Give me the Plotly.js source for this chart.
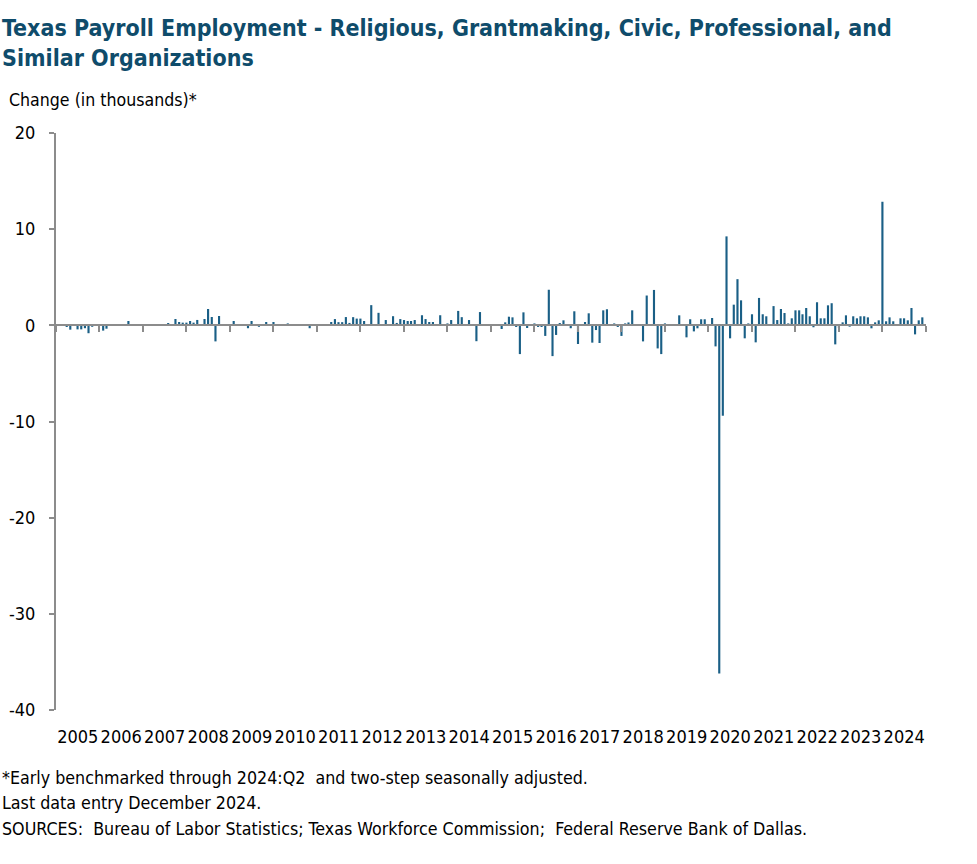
<!DOCTYPE html>
<html>
<head>
<meta charset="utf-8">
<script src="https://cdn.plot.ly/plotly-3.0.1.min.js"></script>
<style>html,body{margin:0;padding:0;background:#fff;}#chart{width:977px;height:864px;}</style>
</head>
<body>
<div id="chart"></div>
<script>
// Monthly change, thousands, Jan 2005 - Dec 2024
const years = ['2005','2006','2007','2008','2009','2010','2011','2012','2013','2014','2015','2016','2017','2018','2019','2020','2021','2022','2023','2024'];
const v2005 = [0, 0, 0, -0.17, -0.45, 0, -0.42, -0.42, -0.3, -0.82, -0.15, 0];
const v2006 = [0, -0.55, -0.35, 0, 0, 0, 0, 0, 0.45, 0, 0, 0];
const v2007 = [0, 0, 0, 0, 0, 0, 0, 0.24, 0, 0.66, 0.35, 0.28];
const v2008 = [0.28, 0.45, 0.28, 0.56, 0, 0.66, 1.7, 0.87, -1.67, 0.97, 0, 0];
const v2009 = [0, 0.45, 0, 0, 0, -0.3, 0.45, 0, -0.15, 0, 0.35, 0];
const v2010 = [0.35, 0, 0, 0, 0.2, 0, 0, 0, 0, 0, -0.3, 0];
const v2011 = [0, 0, 0, 0, 0.35, 0.65, 0.33, 0.33, 0.86, 0.25, 0.85, 0.7];
const v2012 = [0.7, 0.45, 0, 2.1, 0, 1.3, 0, 0.55, 0, 0.95, 0.25, 0.65];
const v2013 = [0.55, 0.45, 0.45, 0.55, 0, 1.05, 0.65, 0.35, 0.35, 0, 1.05, 0];
const v2014 = [0.2, 0.55, 0, 1.5, 0.85, 0, 0.55, 0, -1.65, 1.38, 0, 0];
const v2015 = [0, 0, 0, -0.38, 0.31, 0.9, 0.83, -0.17, -2.99, 1.35, -0.28, 0];
const v2016 = [0.2, -0.17, -0.17, -1.1, 3.7, -3.2, -1.0, 0.24, 0.52, 0, -0.3, 1.46];
const v2017 = [-1.94, 0, 0.35, 1.25, -1.8, -0.49, -1.84, 1.56, 1.67, 0, 0.2, -0.17];
const v2018 = [-1.1, 0.2, 0.3, 1.56, 0, 0, -1.67, 3.1, 0, 3.68, -2.4, -2.99];
const v2019 = [0.2, 0, 0, 0, 1.04, 0, -1.25, 0.63, -0.63, -0.31, 0.63, 0.63];
const v2020 = [0, 0.76, -2.19, -36.2, -9.4, 9.25, -1.35, 2.15, 4.8, 2.6, -1.35, 0.2];
const v2021 = [1.15, -1.77, 2.85, 1.15, 0.94, 0, 2.0, 0.55, 1.7, 1.28, 0.2, 0.73];
const v2022 = [1.56, 1.56, 1.15, 1.8, 0.94, -0.2, 2.4, 0.73, 0.73, 2.08, 2.3, -1.98];
const v2023 = [-0.3, 0.31, 1.04, -0.14, 0.94, 0.73, 0.94, 0.94, 0.83, -0.31, 0.31, 0.52];
const v2024 = [12.85, 0.42, 0.83, 0.42, 0, 0.73, 0.73, 0.52, 1.8, -0.94, 0.52, 0.83];

const yearValues = [v2005,v2006,v2007,v2008,v2009,v2010,v2011,v2012,v2013,v2014,v2015,v2016,v2017,v2018,v2019,v2020,v2021,v2022,v2023,v2024];
const dates = [];
const values = [];
years.forEach((y, k) => {
  yearValues[k].forEach((val, m) => {
    dates.push(y + '-' + String(m + 1).padStart(2, '0') + '-01');
    values.push(val);
  });
});

const yTicks = [-40, -30, -20, -10, 0, 10, 20];
const yTickText = ['-40', '-30', '-20', '-10', '0', '10', '20'];
const titleText = 'Texas Payroll Employment - Religious, Grantmaking, Civic, Professional, and<br>Similar Organizations';
const yLabel = 'Change (in thousands)*';
const notes = [
  '*Early benchmarked through 2024:Q2  and two-step seasonally adjusted.',
  'Last data entry December 2024.',
  'SOURCES:  Bureau of Labor Statistics; Texas Workforce Commission;  Federal Reserve Bank of Dallas.'
];

const W = 977, H = 864;
const M = {l: 56, r: 51, t: 133, b: 154};
const PW = W - M.l - M.r, PH = H - M.t - M.b;
const px = x => (x - M.l) / PW;
const py = y => 1 - (y - M.t) / PH;

const FONT = "'DejaVu Sans Condensed', 'Liberation Sans Narrow', sans-serif";
const GRAY = '#8c8c8c';
const xRange = ['2005-01-01', '2025-01-01'];
const yRange = [-40, 20];

const trace = {
  type: 'bar',
  x: dates,
  y: values,
  marker: {color: '#1a5f86', line: {width: 0}},
  hoverinfo: 'x+y'
};
const tickTrace = {type: 'scatter', x: [], y: [], xaxis: 'x2', yaxis: 'y', showlegend: false};

const annotations = [
  {text: yLabel, xref: 'paper', yref: 'paper', x: px(7), y: py(100), xanchor: 'left', yanchor: 'middle', showarrow: false, font: {family: FONT, size: 17.6, color: '#000'}}
];
const noteY = [778, 803, 829];
notes.forEach((t, i) => annotations.push({text: t, xref: 'paper', yref: 'paper', x: px(0), y: py(noteY[i]), xanchor: 'left', yanchor: 'middle', showarrow: false, font: {family: FONT, size: 17.7, color: '#000'}}));

const layout = {
  width: W, height: H,
  margin: M,
  paper_bgcolor: '#fff', plot_bgcolor: '#fff',
  showlegend: false,
  bargap: 0.36,
  title: {text: titleText, x: 2 / W, xref: 'container', xanchor: 'left', y: 1 - 36 / H, yref: 'container', yanchor: 'top', pad: {t: 0, l: 0},
          font: {family: FONT, size: 23, color: '#0f4c6b', weight: 'bold'}},
  xaxis: {type: 'date', range: xRange, tick0: '2005-01-01', dtick: 'M12', tickformat: '%Y', ticklabelmode: 'period',
          tickangle: 0, ticks: '', showline: false, showgrid: false, zeroline: false, ticklabelstandoff: 14,
          tickfont: {family: FONT, size: 18, color: '#000'}},
  xaxis2: {type: 'date', range: xRange, tick0: '2005-01-01', dtick: 'M12', overlaying: 'x', anchor: 'free', position: 40 / 60,
           ticks: 'outside', ticklen: 6, tickwidth: 2, tickcolor: GRAY, showline: true, linecolor: GRAY, linewidth: 2,
           showticklabels: false, showgrid: false, zeroline: false},
  yaxis: {range: yRange, tickvals: yTicks, ticktext: yTickText, ticks: 'outside', ticklen: 5, tickwidth: 2, tickcolor: GRAY,
          showline: true, linecolor: GRAY, linewidth: 2, showgrid: false, zeroline: false, ticklabelstandoff: 10,
          tickfont: {family: FONT, size: 18, color: '#000'}},
  annotations: annotations
};

Plotly.newPlot('chart', [trace, tickTrace], layout, {displayModeBar: false, staticPlot: true});
</script>
</body>
</html>
